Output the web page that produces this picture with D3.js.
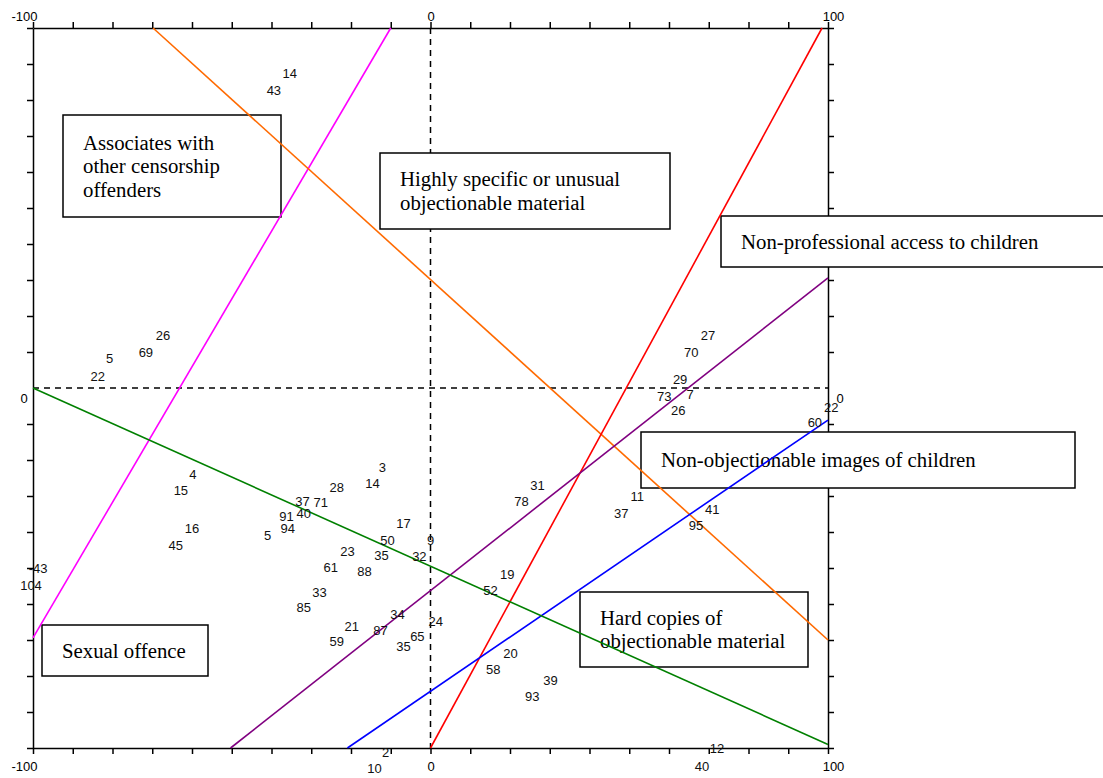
<!DOCTYPE html>
<html>
<head>
<meta charset="utf-8">
<script src="https://cdn.jsdelivr.net/npm/d3@7"></script>
<style>
  body { margin: 0; background: #fff; }
  .axis text { font-family: "Liberation Sans", Arial, sans-serif; font-size: 13px; fill: #000; }
  .axis path, .axis line { stroke: #000; stroke-width: 1.5; }
  .pt { font-family: "Liberation Sans", Arial, sans-serif; font-size: 13px; fill: #111; }
  .box-text { font-family: "Liberation Serif", "Times New Roman", serif; font-size: 20.8px; fill: #000; }
</style>
</head>
<body>
<svg id="chart" width="1103" height="778"></svg>
<script>
// point labels and their map coordinates
const pointLabels = ["14","43","26","69","5","22","27","70","29","73","7","26","22","60",
  "3","14","28","4","15","37","71","40","91","94","5","16","45","17","50","9","23","35","32",
  "61","88","33","85","34","24","21","87","65","59","35",
  "31","78","11","37","41","95","19","52","20","58","39","93",
  "-43","104","2","10","12","40"]
const pointX = [-35.4,-39.4,-67.3,-71.6,-80.7,-83.7,69.8,65.6,62.8,58.8,65.3,62.3,100.8,96.7,
  -12.1,-14.6,-23.6,-59.8,-62.8,-32.2,-27.6,-31.9,-36.2,-35.9,-41,-60,-64.1,-6.8,-10.8,0,-20.9,-12.3,-2.8,
  -25.1,-16.6,-27.9,-31.9,-8.3,1.3,-19.8,-12.6,-3.3,-23.6,-6.8,
  26.9,22.9,52,48,70.9,66.8,19.3,15.1,20.1,15.8,30.2,25.6,
  -98.7,-100.5,-11.3,-14.1,72.1,68.3]
const pointY = [87.5,82.8,14.7,10,8.3,3.3,14.7,10,2.5,-2.2,-1.7,-6.1,-5.3,-9.4,
  -21.9,-26.4,-27.5,-23.9,-28.3,-31.4,-31.7,-34.7,-35.6,-38.9,-40.8,-38.9,-43.6,-37.5,-42.2,-42.2,-45.3,-46.4,-46.7,
  -49.7,-50.8,-56.7,-60.8,-62.8,-64.7,-66.1,-67.2,-68.9,-70.3,-71.7,
  -26.9,-31.4,-30,-34.7,-33.6,-38.1,-51.7,-56.1,-73.6,-78.1,-81.1,-85.6,
  -50,-54.7,-101.1,-105.6,-100,-105]

// property vectors (start and end in map coordinates)
const vecNames = ["Associates", "Highly specific", "Non-professional", "Non-objectionable", "Hard copies", "Sexual offence"]
const vecColors = ["#ff00ff", "#ff6a00", "#ff0000", "#800080", "#0000ff", "#008000"]
const vecStart = [[-10, 100], [-69.8, 100], [0, -100], [-50.3, -100], [-20.9, -100], [-100, 0]]
const vecEnd = [[-100, -69.4], [100, -70], [98.5, 100], [100, 30.6], [100, -8.9], [100, -99]]

const axisLabels = [-100, 0, 100]

// label boxes (pixel layout)
const boxes = [
  { lines: ["Associates with", "other censorship", "offenders"], x: 63, y: 115, w: 218, h: 102 },
  { lines: ["Highly specific or unusual", "objectionable material"], x: 380, y: 153, w: 290, h: 76 },
  { lines: ["Non-professional access to children"], x: 721, y: 216, w: 400, h: 51 },
  { lines: ["Non-objectionable images of children"], x: 641, y: 432, w: 434, h: 56 },
  { lines: ["Sexual offence"], x: 42, y: 625, w: 166, h: 51 },
  { lines: ["Hard copies of", "objectionable material"], x: 580, y: 592, w: 228, h: 75 }
]

const svg = d3.select("#chart")
const x = d3.scaleLinear().domain([-100, 100]).range([33, 828])
const y = d3.scaleLinear().domain([-100, 100]).range([748, 28])
const ticks = d3.range(-100, 101, 10)
const fmt = d => axisLabels.includes(d) ? d : ""

svg.append("g").attr("class", "axis").attr("transform", "translate(0,28)")
  .call(d3.axisTop(x).tickValues(ticks).tickSize(6).tickSizeOuter(0).tickPadding(1).tickFormat(fmt))
svg.append("g").attr("class", "axis").attr("transform", "translate(0,748)")
  .call(d3.axisBottom(x).tickValues(ticks).tickSize(6).tickSizeOuter(0).tickPadding(8).tickFormat(fmt))
svg.append("g").attr("class", "axis").attr("transform", "translate(33,0)")
  .call(d3.axisLeft(y).tickValues(ticks.filter(d => d != 0)).tickSize(6).tickSizeOuter(0).tickFormat(""))
svg.append("g").attr("class", "axis").attr("transform", "translate(828,0)")
  .call(d3.axisRight(y).tickValues(ticks.filter(d => d != 0)).tickSize(6).tickSizeOuter(0).tickFormat(""))

// nudge the corner labels like the original
svg.selectAll(".axis .tick text").attr("dx", d => d == -100 ? -9 : d == 100 ? 5 : 0)

svg.append("text").attr("class", "pt").attr("x", 24).attr("y", y(0) + 15)
  .attr("text-anchor", "middle").style("fill", "#000").text("0")
svg.append("text").attr("class", "pt").attr("x", 840).attr("y", y(0) + 15)
  .attr("text-anchor", "middle").style("fill", "#000").text("0")

// dashed origin lines
svg.append("line").attr("x1", x(0)).attr("x2", x(0)).attr("y1", y(100)).attr("y2", y(-100))
  .attr("stroke", "#000").attr("stroke-width", 1.5).attr("stroke-dasharray", "6,5")
svg.append("line").attr("x1", x(-100)).attr("x2", x(100)).attr("y1", y(0)).attr("y2", y(0))
  .attr("stroke", "#000").attr("stroke-width", 1.5).attr("stroke-dasharray", "6,5")

// boxes
const boxG = svg.append("g").selectAll("g").data(boxes).join("g")
boxG.append("rect")
  .attr("x", d => d.x).attr("y", d => d.y).attr("width", d => d.w).attr("height", d => d.h)
  .attr("fill", "#fff").attr("stroke", "#000").attr("stroke-width", 1.5)
boxG.each(function(d) {
  const g = d3.select(this)
  const n = d.lines.length
  d.lines.forEach((t, i) => {
    g.append("text").attr("class", "box-text")
      .attr("x", d.x + 20)
      .attr("y", d.y + d.h / 2 + (i - (n - 1) / 2) * 23.5 + 7)
      .text(t)
  })
})

// vectors
svg.append("g").selectAll("line").data(vecNames).join("line")
  .attr("x1", (d, i) => x(vecStart[i][0])).attr("y1", (d, i) => y(vecStart[i][1]))
  .attr("x2", (d, i) => x(vecEnd[i][0])).attr("y2", (d, i) => y(vecEnd[i][1]))
  .attr("stroke", (d, i) => vecColors[i]).attr("stroke-width", 1.6)

// point labels
svg.append("g").selectAll("text").data(pointLabels).join("text")
  .attr("class", "pt")
  .attr("x", (d, i) => x(pointX[i]))
  .attr("y", (d, i) => y(pointY[i]) + 5)
  .attr("text-anchor", "middle")
  .text(d => d)
</script>
</body>
</html>
